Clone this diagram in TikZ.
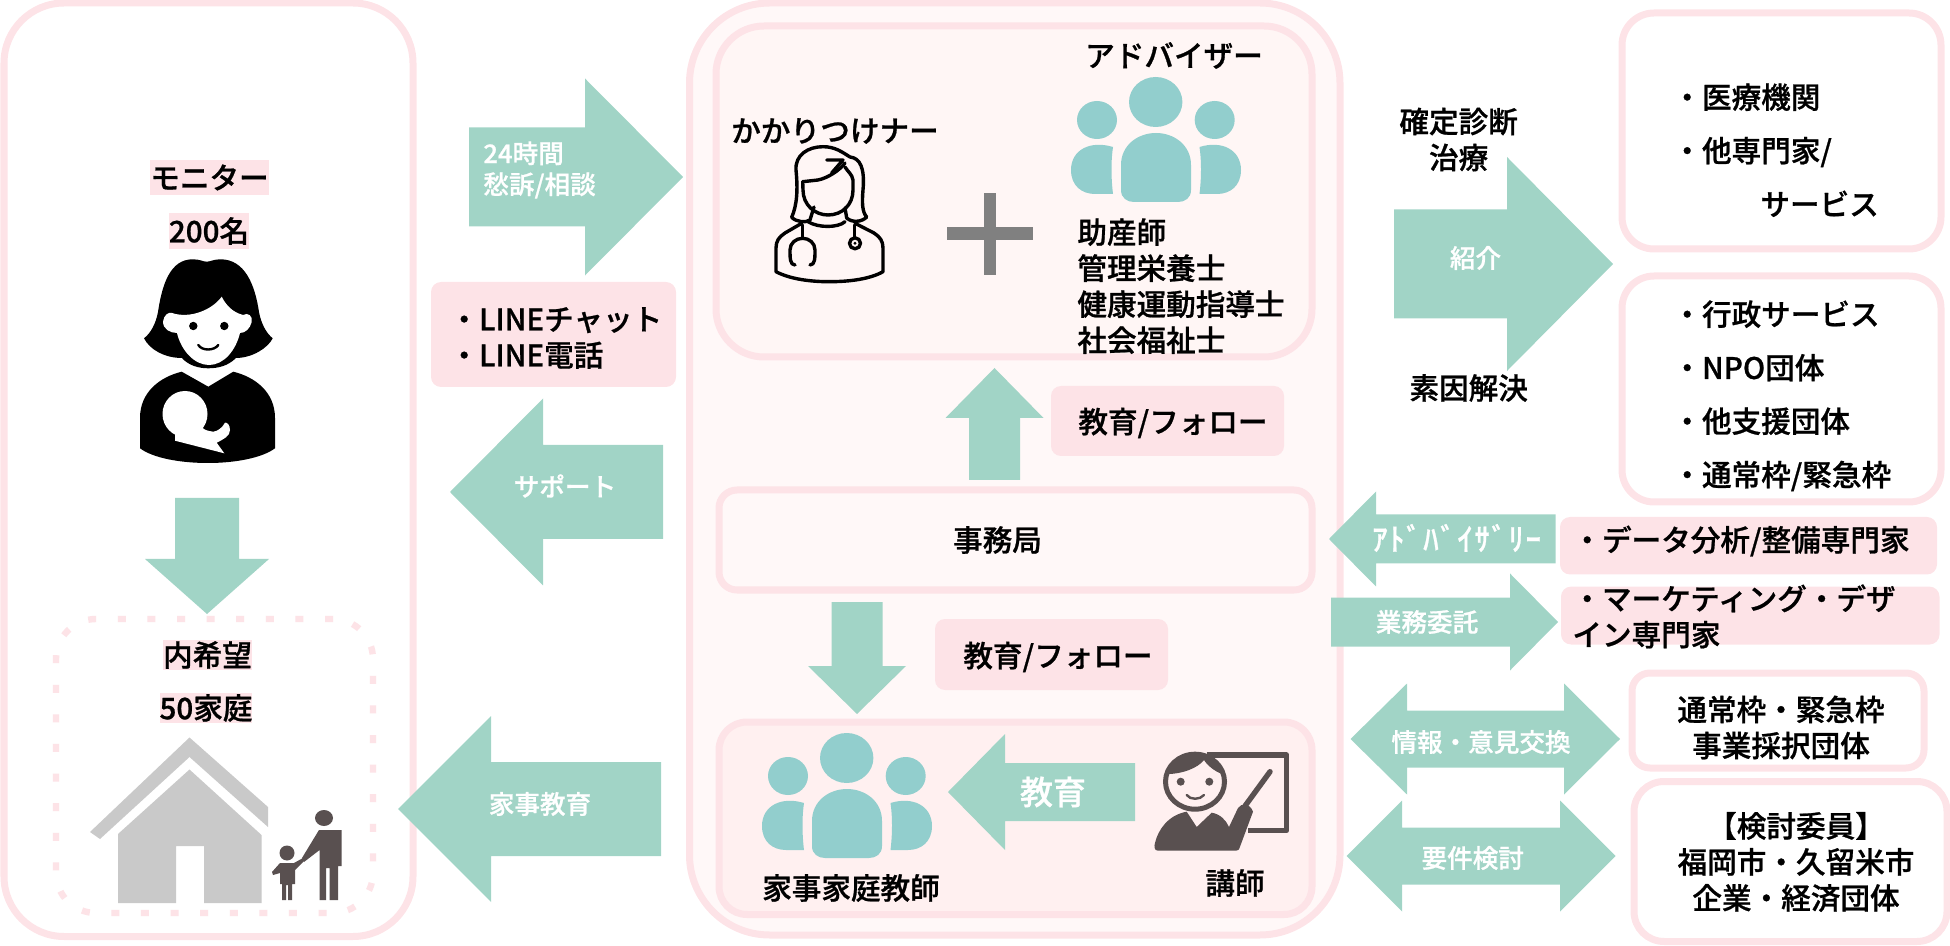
\documentclass[tikz,border=0pt]{standalone}
\usepackage{fontspec}
\usepackage{xcolor}
\usepackage{tikz}
\setmainfont{Noto Sans CJK JP Medium}[FakeBold=0.8]
\definecolor{softPink}{HTML}{FDE3E7}
\definecolor{palePink}{HTML}{FFF8F8}
\definecolor{warmPink}{HTML}{FFF6F5}
\definecolor{rosePink}{HTML}{FFF0F0}
\definecolor{flowGreen}{HTML}{A1D4C6}
\definecolor{teamTeal}{HTML}{92CECD}
\definecolor{houseGray}{HTML}{C9C9C9}
\definecolor{plusGray}{HTML}{808080}
\definecolor{figBrown}{HTML}{595050}
\tikzset{
  flow/.style={fill=flowGreen},
  lbl/.style={font=\fontsize{14.8}{18}\selectfont, inner sep=0pt, text=black},
  lst/.style={font=\fontsize{14.8}{26.75}\selectfont, inner sep=0pt, text=black, align=left},
  onflow/.style={font=\fontsize{12.8}{15.5}\selectfont, inner sep=0pt, text=white},
  frame/.style={draw=softPink, line width=3.5pt, fill=white, inner sep=0pt},
  inframe/.style={frame, fill=palePink},
  tagbox/.style={fill=softPink, rounded corners=5pt, inner sep=0pt, lbl},
  hilite/.style={fill=softPink, inner sep=0pt, lbl},
  dotbox/.style={draw=softPink, line width=3.2pt, dash pattern=on 4pt off 10.8pt,
    rounded corners=20pt, inner sep=0pt},
  nurseline/.style={draw=black, line width=1.7pt, line cap=round, line join=round},
}
% box from two corners, with its text in the middle
\newcommand{\panel}[7][]{%
  \node[#2, #1, minimum width={(#5-#3)*0.5pt}, minimum height={(#6-#4)*0.5pt}]
    at ({(#3+#5)/2},{(#4+#6)/2}) (#7) }
% block arrows: tail, head base, tip, middle line, half shaft, half head
\newcommand{\hflow}[6]{%
  \fill[flow] (#1,#4-#5) -- (#2,#4-#5) -- (#2,#4-#6) -- (#3,#4) -- (#2,#4+#6)
    -- (#2,#4+#5) -- (#1,#4+#5) -- cycle;}
\newcommand{\vflow}[6]{%
  \fill[flow] (#4-#5,#1) -- (#4-#5,#2) -- (#4-#6,#2) -- (#4,#3) -- (#4+#6,#2)
    -- (#4+#5,#2) -- (#4+#5,#1) -- cycle;}
\newcommand{\dflow}[7]{%
  \fill[flow] (#1,#5) -- (#2,#5-#7) -- (#2,#5-#6) -- (#3,#5-#6) -- (#3,#5-#7)
    -- (#4,#5) -- (#3,#5+#7) -- (#3,#5+#6) -- (#2,#5+#6) -- (#2,#5+#7) -- cycle;}
\newcommand{\teamicon}{%
  \fill[teamTeal] (1155.7,102) ellipse (26.7 and 25);
  \fill[teamTeal] (1097,120) ellipse (20 and 19);
  \fill[teamTeal] (1214.7,120) ellipse (20 and 19);
  \fill[teamTeal] (1121,165) .. controls (1121,145) and (1138,133) .. (1156,133)
    .. controls (1174,133) and (1191,145) .. (1191,165) -- (1191,190)
    .. controls (1191,198) and (1185,202) .. (1178,202) -- (1134,202)
    .. controls (1127,202) and (1121,198) .. (1121,190) -- cycle;
  \fill[teamTeal] (1113,147) .. controls (1090,140) and (1071,150) .. (1071,170)
    .. controls (1071,186) and (1082,194) .. (1095,194) -- (1113,194)
    .. controls (1111,178) and (1111,160) .. (1113,147) -- cycle;
  \fill[teamTeal] (1199.5,147) .. controls (1222,140) and (1241,150) .. (1241,170)
    .. controls (1241,186) and (1230,194) .. (1217,194) -- (1199.5,194)
    .. controls (1201.5,178) and (1201.5,160) .. (1199.5,147) -- cycle;}
\begin{document}
\begin{tikzpicture}[x=0.5pt,y=-0.5pt]
  \useasboundingbox (0,0) rectangle (1950,946);
  % monitors
  \panel[rounded corners=30pt]{frame}{4}{3}{413}{936.5}{monitors} {};
  \panel{hilite}{150}{160}{269}{195}{monitortag} {モニター};
  \panel{hilite}{172}{213}{246}{249}{counttag} {\raisebox{-1pt}{200名}};
  % mother and baby
  \fill[black] (144,338.3) .. controls (151,333) and (156,323) .. (158,312)
    .. controls (162,285) and (170,259) .. (193,259.3)
    .. controls (200,259.3) and (203,261.7) .. (206.7,261.7)
    .. controls (210,261.7) and (214,259.3) .. (220,259.3)
    .. controls (245,259) and (255,285) .. (259,312)
    .. controls (261,323) and (266,333) .. (272.7,338.3)
    .. controls (268,348) and (252,358) .. (236,358)
    .. controls (228,366) and (218,368.3) .. (208,368.3)
    .. controls (198,368.3) and (188,365) .. (182,358)
    .. controls (165,358) and (150,350) .. (144,338.3) -- cycle;
  \fill[white] (163,321.7) .. controls (164,315) and (168,312) .. (172,313)
    .. controls (190,319) and (212,310) .. (221.7,296.7)
    .. controls (226,305) and (232,312) .. (243,315)
    .. controls (248,312) and (253,316) .. (251.7,322)
    .. controls (250,329) and (245,333) .. (240,333)
    .. controls (236,350) and (224,365) .. (209,365)
    .. controls (194,365) and (181,350) .. (177,333)
    .. controls (170,333) and (163,329) .. (163,321.7) -- cycle;
  \fill[black] (193.3,326) circle (4.2);
  \fill[black] (224.3,326) circle (4.2);
  \draw[black, line width=1.2pt, line cap=round] (198.3,345) .. controls (202,351) and (214,351) .. (218.3,345);
  \fill[black] (181.7,371.7) -- (208.3,386.7) -- (233.3,371.7)
    .. controls (255,377) and (275,392) .. (275,418) -- (275,448.3)
    .. controls (262,458) and (235,463) .. (208,463)
    .. controls (180,463) and (153,458) .. (140,448.3) -- (140,418)
    .. controls (140,392) and (160,377) .. (181.7,371.7) -- cycle;
  \fill[white] (185,414) ellipse (22.5 and 23);
  \fill[white] (175,430) -- (175,440.7) -- (224.3,453.3) -- (216.7,442.7)
    .. controls (224,439) and (230,436) .. (230,430)
    .. controls (230,425) and (227,422) .. (225,422.7)
    .. controls (222,428) and (218,431) .. (213.3,431.7)
    .. controls (208,431) and (204,430) .. (201.7,427) -- cycle;
  \vflow{498}{559}{614}{207}{32}{62}
  % families
  \panel{dotbox}{56}{619}{373}{913}{families} {};
  \panel{hilite}{164}{640}{251}{670}{wishtag} {内希望};
  \panel{hilite}{160}{693}{252}{723}{hometag} {50家庭};
  \fill[houseGray] (189.5,737.5) -- (268,807) -- (268,827) -- (189.5,757)
    -- (100,839) -- (90,832) -- cycle;
  \fill[houseGray] (189.5,769.5) -- (261.5,835) -- (261.5,903) -- (204,903)
    -- (204,846) -- (176,846) -- (176,903) -- (118,903) -- (118,834) -- cycle;
  \fill[figBrown] (324,818) ellipse (9 and 8);
  \fill[figBrown] (319,830) -- (341.5,830) -- (341.5,866) -- (338,866) -- (338,900)
    -- (329.6,900) -- (329.6,868) -- (326,868) -- (326,900) -- (319.6,900) -- (319.6,850)
    -- (304,862) -- (302,858) -- cycle;
  \fill[figBrown] (287,853) circle (7.5);
  \fill[figBrown] (280,863) -- (294,863) -- (303,858) -- (304,861) -- (295,870)
    -- (295,884) -- (292,884) -- (292,900) -- (288,900) -- (288,885) -- (286,885)
    -- (286,900) -- (282,900) -- (282,884) -- (280,884) -- (280,873) -- (273,875)
    -- (272,872) -- cycle;
  % left arrows
  \hflow{469}{585}{683}{177}{49.5}{98.5}
  \node[onflow, align=left, anchor=west] (complaint) at (483,170) {24時間\\愁訴/相談};
  \panel{tagbox}{431}{282}{676}{387}{linetag} {};
  \node[lbl, align=left, anchor=west] (linelist) at (449,338) {・LINEチャット\\・LINE電話};
  \hflow{663}{543}{450}{492}{47}{93.5}
  \node[onflow] (support) at (565,486) {サポート};
  \hflow{661}{491}{398}{809}{47}{93}
  \node[onflow] (lesson) at (540,804) {家事教育};
  % centre
  \panel[rounded corners=40pt]{inframe}{689.5}{3}{1340}{935}{centre} {};
  \panel[rounded corners=24pt, fill=warmPink]{inframe}{716}{26}{1312}{357}{careteam} {};
  \node[lbl] (nurselbl) at (835,131) {かかりつけナー};
  % nurse
  \draw[nurseline] (791.7,217.3) .. controls (797,205) and (798,190) .. (796,170)
    .. controls (795,155) and (808,146.7) .. (823,146.7)
    .. controls (835,146.7) and (842,152) .. (850,157)
    .. controls (860,158) and (865,168) .. (863,190)
    .. controls (862,202) and (862,212) .. (866.7,217)
    .. controls (862,222) and (852,223) .. (846.7,218) -- (845,208);
  \draw[nurseline] (791.7,217.3) .. controls (796,222) and (806,223) .. (810,220) -- (814,207);
  \draw[nurseline] (802.7,181.7) -- (803,190) .. controls (803,205) and (815,215) .. (828,215)
    .. controls (842,215) and (853,205) .. (853,190) -- (853,180)
    .. controls (852,174) and (848,172) .. (845,167);
  \draw[nurseline] (802.7,181.7) -- (818,180) .. controls (828,178) and (840,170) .. (845,163);
  \draw[nurseline] (826.7,160) -- (843,160) -- (831.7,173);
  \draw[nurseline] (808,221.7) .. controls (818,228) and (838,228) .. (845,221.7);
  \draw[nurseline] (801.7,223.3) -- (785,233) .. controls (779,237) and (776,241) .. (776,248)
    -- (776,271.7) .. controls (790,279) and (810,281.7) .. (829,281.7)
    .. controls (850,281.7) and (870,279) .. (883,271.7) -- (883,248)
    .. controls (883,241) and (880,237) .. (874,233) -- (855,223.3);
  \draw[nurseline] (802.7,225) -- (802.7,238.3);
  \draw[nurseline] (795,265) .. controls (790,265) and (790,258) .. (790,250)
    .. controls (790,243) and (796,238.3) .. (802.7,238.3)
    .. controls (809,238.3) and (815,243) .. (815,250)
    .. controls (815,258) and (815,265) .. (810,265);
  \draw[nurseline] (854.3,225) -- (854.3,237.5);
  \draw[nurseline] (855,243.3) circle (5.5);
  \fill[black] (855,243.3) circle (1.6);
  \fill[plusGray] (947,227.5) rectangle (1033,240);
  \fill[plusGray] (983.5,193) rectangle (996,275);
  \node[lbl] (advisorlbl) at (1174,55.5) {アドバイザー};
  \teamicon
  \node[lbl, align=left, anchor=north west] (roles) at (1077,218) {助産師\\管理栄養士\\健康運動指導士\\社会福祉士};
  \vflow{480}{418}{368}{994.5}{25.5}{49}
  \panel{tagbox}{1051}{386}{1284}{456}{followtop} {};
  \node[lbl] (followtoplbl) at (1173,423) {教育/フォロー};
  \panel[rounded corners=9pt]{inframe}{719}{490}{1312}{590}{office} {};
  \node[lbl] (officelbl) at (997.5,540) {事務局};
  \vflow{602}{666}{714}{857}{25.5}{49}
  \panel{tagbox}{935}{619}{1168}{690}{followlow} {};
  \node[lbl] (followlowlbl) at (1058,657) {教育/フォロー};
  \panel[rounded corners=14pt, fill=rosePink]{inframe}{719}{722}{1312}{914.5}{tutors} {};
  \begin{scope}[shift={(-309,656)}]
    \teamicon
  \end{scope}
  \node[lbl] (tutorlbl) at (851,888) {家事家庭教師};
  \hflow{1135}{1005}{948}{792}{29}{58}
  \node[onflow, font=\fontsize{16.5}{20}\selectfont] (teachlbl) at (1053,792) {教育};
  % lecturer
  \draw[figBrown, line width=2.6pt, line join=round] (1206.7,755) -- (1286.7,755) -- (1286.7,830.7) -- (1248,830.7);
  \draw[figBrown, line width=2.7pt, line cap=round] (1245,806) -- (1270,771.7);
  \draw[figBrown, line width=2.5pt, fill=rosePink] (1195,781.7) ellipse (29.5 and 27.5);
  \fill[figBrown] (1168,774) .. controls (1170,762) and (1182,752) .. (1195,752)
    .. controls (1208,752) and (1220,762) .. (1222,774)
    .. controls (1214,771) and (1207,765) .. (1204,760)
    .. controls (1198,768) and (1182,774) .. (1168,774) -- cycle;
  \fill[figBrown] (1180.7,781.7) circle (4);
  \fill[figBrown] (1209.3,781.7) circle (4);
  \draw[figBrown, line width=1.2pt, line cap=round] (1186.7,795) .. controls (1190,800) and (1200,800) .. (1204,795);
  \fill[figBrown] (1158,850.7) .. controls (1154,850.7) and (1154,846) .. (1155,843)
    .. controls (1158,830) and (1168,815) .. (1186.7,811.7)
    -- (1196.7,827) -- (1211.7,812.7)
    .. controls (1220,814) and (1226,820) .. (1229,827)
    -- (1238,808) .. controls (1241,803) and (1250,803) .. (1253,811.7)
    -- (1240,846.7) .. controls (1239,850) and (1238,850.7) .. (1236,850.7) -- cycle;
  \node[lbl] (lecturerlbl) at (1235,883) {講師};
  % right side
  \node[lbl, align=center] (diagnosis) at (1458.6,139.5) {確定診断\\治療};
  \hflow{1394}{1507}{1613}{264}{54.5}{107}
  \node[onflow] (referral) at (1475.5,258) {紹介};
  \node[lbl] (causes) at (1468.7,388) {素因解決};
  \panel[rounded corners=16pt]{frame}{1622}{13}{1941}{249}{medical} {};
  \node[lst, anchor=north west] (medicallist) at (1672,83) {・医療機関\\・他専門家/\\\hspace{44pt}サービス};
  \panel[rounded corners=16pt]{frame}{1622}{276}{1941}{502}{welfare} {};
  \node[lst, anchor=north west] (welfarelist) at (1672,300) {・行政サービス\\・NPO団体\\・他支援団体\\・通常枠/緊急枠};
  \hflow{1555.5}{1376}{1329}{539}{24.5}{47.5}
  \node[onflow, font=\fontsize{15.5}{18}\selectfont\addfontfeature{LetterSpace=5}] (advisory) at (1456.6,538) {ｱﾄﾞﾊﾞｲｻﾞﾘｰ};
  \panel{tagbox}{1560}{517}{1937}{574.5}{datatag} {};
  \node[lbl, anchor=west] (datalbl) at (1572,541) {・データ分析/整備専門家};
  \hflow{1331}{1510}{1558}{622}{24.5}{48.5}
  \node[onflow] (outsource) at (1427,622) {業務委託};
  \panel{tagbox}{1561}{586.6}{1939.5}{644.5}{designtag} {};
  \node[lbl, align=left, anchor=north west] (designlbl) at (1572,584) {・マーケティング・デザ\\イン専門家};
  \dflow{1350.5}{1407}{1564}{1620}{739}{28.5}{55.5}
  \node[onflow] (exchange) at (1481,742) {情報・意見交換};
  \panel[rounded corners=9pt]{frame}{1632}{673}{1924}{768}{adopted} {};
  \node[lbl, align=center] (adoptedlbl) at (1781,727.5) {通常枠・緊急枠\\事業採択団体};
  \dflow{1346.5}{1402}{1560}{1615.7}{856}{28.5}{55.5}
  \node[onflow] (require) at (1472.7,858) {要件検討};
  \panel[rounded corners=15pt]{frame}{1634}{781.5}{1947}{941.5}{committee} {};
  \node[lbl, align=center] (committeelbl) at (1796,862) {【検討委員】\\福岡市・久留米市\\企業・経済団体};
\end{tikzpicture}
\end{document}
